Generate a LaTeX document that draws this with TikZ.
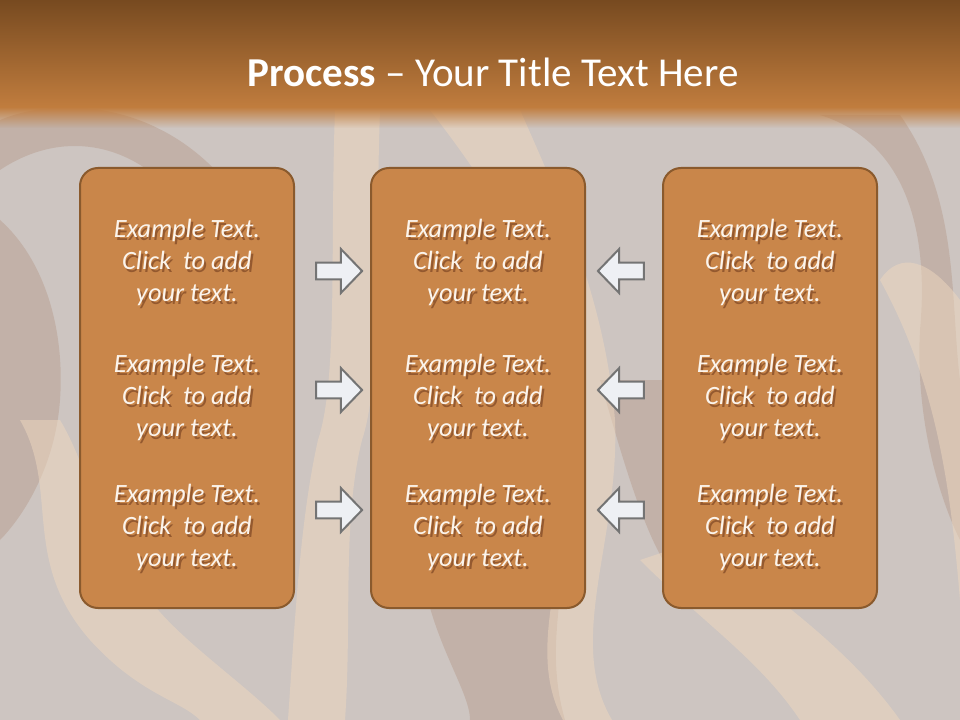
\documentclass[tikz,border=0pt]{standalone}
\usepackage{fontspec}
\setmainfont{Carlito}
\usetikzlibrary{positioning,shapes.arrows,fadings}

\definecolor{bandtop}{HTML}{774A20}
\definecolor{bandbot}{HTML}{C17D3E}
\definecolor{paper}{HTML}{CDC5C1}
\definecolor{cream}{HTML}{EFD8BF}
\definecolor{umber}{HTML}{9A6444}
\definecolor{boxfill}{HTML}{C9864A}
\definecolor{boxline}{HTML}{8A5A2D}
\definecolor{arrowfill}{HTML}{EEF0F4}
\definecolor{arrowline}{HTML}{747474}
\definecolor{inktext}{HTML}{FBF4EC}
\definecolor{textshade}{HTML}{94592F}

% text with a small drop shadow
\newcommand\shtext[1]{\rlap{\hspace{1.6pt}\raisebox{-1.6pt}{\color{textshade}#1}}#1}

\tikzset{
  crest/.style={fill=cream,fill opacity=0.5,draw=none},
  trough/.style={fill=umber,fill opacity=0.2,draw=none},
  panel/.style={draw=boxline,line width=1.5pt,fill=boxfill,rounded corners=13.5pt,
    minimum width=160.5pt,minimum height=330pt,inner sep=0pt},
  note/.style={align=center,text=inktext,inner sep=0pt,
    font=\fontsize{19.8pt}{24pt}\selectfont\itshape},
  blockarrow/.style={single arrow,draw=arrowline,line width=1.5pt,fill=arrowfill,
    minimum height=34.5pt,inner xsep=0pt,inner ysep=5.6pt,
    single arrow head extend=10.1pt,single arrow tip angle=92},
}

\begin{document}
\begin{tikzpicture}[x=0.75pt,y=-0.75pt]
  \useasboundingbox (0,0) rectangle (960,720);
  % background paper with waves
  \fill[paper] (0,0) rectangle (960,720);
  \fill[trough] (0,170) .. controls (60,130) and (130,140) .. (180,200) -- (240,200)
        .. controls (170,100) and (60,95) .. (0,120) -- cycle;
  \fill[trough] (0,220) .. controls (45,260) and (65,330) .. (60,400)
        .. controls (55,470) and (20,520) .. (0,540) -- cycle;
  \fill[trough] (420,560) .. controls (430,640) and (470,690) .. (470,720) -- (565,720)
        .. controls (545,650) and (565,600) .. (560,560) -- cycle;
  \fill[trough] (600,380) -- (663,380) -- (663,560) .. controls (640,520) and (620,450) .. (600,380);
  \fill[trough] (820,115) .. controls (900,140) and (930,220) .. (920,330)
        .. controls (915,420) and (940,500) .. (960,540) -- (960,380)
        .. controls (950,300) and (960,200) .. (900,115) -- cycle;
  \fill[crest] (20,420) .. controls (60,490) and (20,560) .. (90,640)
        .. controls (140,695) and (180,700) .. (200,720) -- (280,720)
        .. controls (240,680) and (180,640) .. (150,600)
        .. controls (100,540) and (90,470) .. (60,420) -- cycle;
  \fill[crest] (335,110) -- (380,110) .. controls (375,250) and (382,380) .. (362,440)
        .. controls (342,520) and (352,620) .. (345,720) -- (288,720)
        .. controls (295,620) and (300,520) .. (318,440)
        .. controls (338,380) and (330,250) .. (335,110);
  \fill[crest] (430,110) -- (520,110) .. controls (560,200) and (605,300) .. (615,420)
        .. controls (620,540) and (565,640) .. (612,720) -- (563,720)
        .. controls (520,640) and (580,540) .. (572,420)
        .. controls (562,300) and (500,200) .. (430,110);
  \fill[crest] (640,560) .. controls (700,620) and (760,660) .. (800,720) -- (900,720)
        .. controls (850,650) and (780,600) .. (700,540) -- cycle;
  \fill[crest] (880,280) .. controls (935,380) and (950,480) .. (960,600) -- (960,300)
        .. controls (930,260) and (900,250) .. (880,280);
  % title band
  \shade[top color=bandtop,bottom color=bandbot] (0,0) rectangle (960,108);
  \fill[bandbot,path fading=south] (0,107) rectangle (960,128);
  \node[text=white,anchor=base,font=\fontsize{30.8pt}{36pt}\selectfont] (title) at (493,87)
    {\textbf{Process} -- Your Title Text Here};
  % three panels with three notes each
  \foreach \col/\cx in {l/187,m/478,r/770} {
    \node[panel] (\col box) at (\cx,388) {};
    \foreach \row/\cy in {1/264,2/399,3/529}
      \node[note] (\col\row) at (\cx,\cy)
        {\shtext{Example Text.}\\\shtext{Click~ to add}\\\shtext{your text.}};
  }
  % arrows pointing into the middle panel
  \foreach \row/\cy in {1/271,2/390,3/510} {
    \node[blockarrow] (in\row) at (335,\cy) {};
    \node[blockarrow,shape border rotate=180] (back\row) at (625,\cy) {};
  }
\end{tikzpicture}
\end{document}
